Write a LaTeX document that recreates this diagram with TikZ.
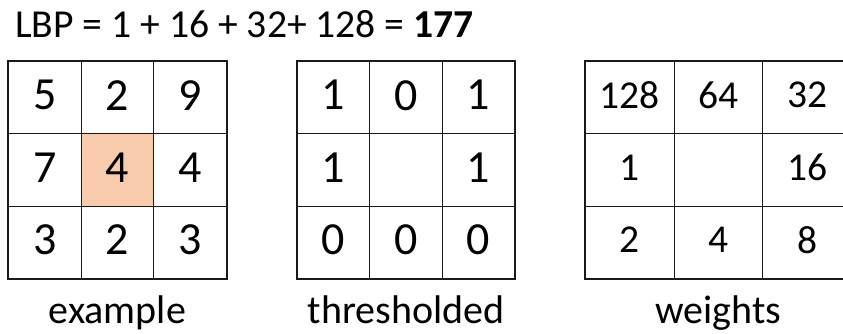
\documentclass[tikz,border=0pt]{standalone}
\usepackage{fontspec}
\setmainfont{Carlito}
\definecolor{peach}{HTML}{F8CBAD}
\definecolor{gridline}{HTML}{1A1A1A}
\begin{document}
\begin{tikzpicture}[x=1pt,y=1pt,
  cell/.style={draw=gridline, line width=0.9pt, minimum height=72.33pt,
    inner sep=0pt, anchor=north west, text depth=5pt},
  frame/.style={draw=gridline, line width=2pt},
  caption/.style={anchor=base, inner sep=0pt, font=\fontsize{40}{40}\selectfont},
  bigdigit/.style={font=\fontsize{46}{46}\selectfont},
  smalldigit/.style={font=\fontsize{39.5}{39.5}\selectfont}]
\useasboundingbox (0,0) rectangle (843,333);

% formula
\node[anchor=base west, inner sep=0pt, font=\fontsize{39.6}{39.6}\selectfont] (formula)
  at (15,295.5) {LBP = 1 + 16 + 32+ 128 = \textbf{177}};

% example neighbourhood
\foreach \v/\f [count=\i from 0] in {5/white,2/white,9/white,7/white,4/peach,4/white,3/white,2/white,3/white} {
  \pgfmathtruncatemacro\c{mod(\i,3)}
  \pgfmathtruncatemacro\r{div(\i,3)}
  \node[cell, bigdigit, fill=\f, minimum width=72.67pt] (ex-\r-\c)
    at ({8+\c*72.67},{272-\r*72.33}) {\v};
}
\draw[frame] (ex-0-0.north west) rectangle (ex-2-2.south east);

% thresholded neighbourhood
\foreach \v [count=\i from 0] in {1,0,1,1,{},1,0,0,0} {
  \pgfmathtruncatemacro\c{mod(\i,3)}
  \pgfmathtruncatemacro\r{div(\i,3)}
  \node[cell, bigdigit, minimum width=72.33pt] (th-\r-\c)
    at ({297+\c*72.33},{272-\r*72.33}) {\v};
}
\draw[frame] (th-0-0.north west) rectangle (th-2-2.south east);

% weights
\foreach \v [count=\i from 0] in {128,64,32,1,{},16,2,4,8} {
  \pgfmathtruncatemacro\c{mod(\i,3)}
  \pgfmathtruncatemacro\r{div(\i,3)}
  \node[cell, smalldigit, minimum width=88.7pt] (wt-\r-\c)
    at ({585+\c*88.7},{272-\r*72.33}) {\v};
}
\draw[frame] (wt-0-0.north west) rectangle (wt-2-2.south east);

% captions
\node[caption] (cap-ex) at (ex-2-1.south |- 0,9.5) {example};
\node[caption] (cap-th) at (th-2-1.south |- 0,9.5) {thresholded};
\node[caption] (cap-wt) at (wt-2-1.south |- 0,9.5) {weights};
\end{tikzpicture}
\end{document}
